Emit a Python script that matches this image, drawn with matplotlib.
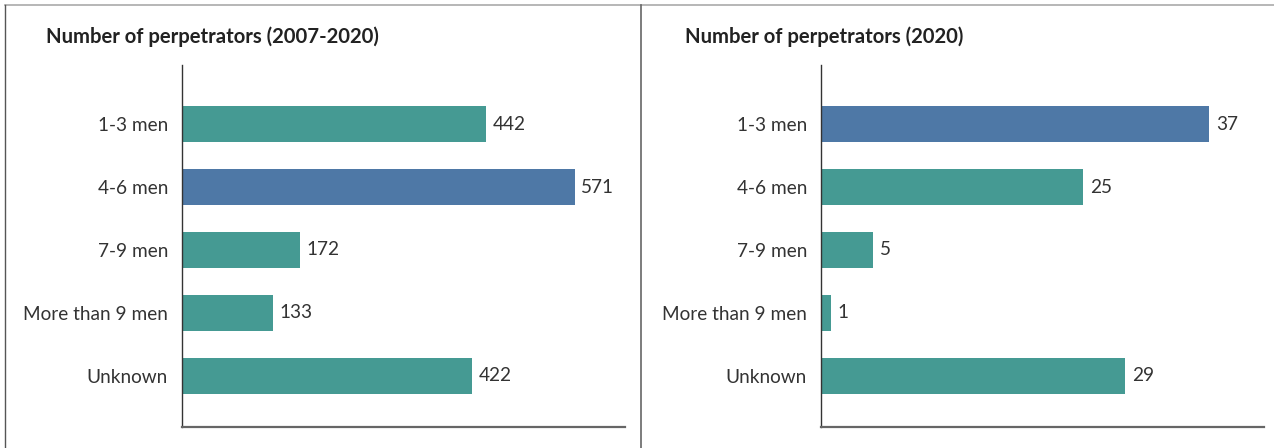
import numpy as np
import matplotlib
matplotlib.use("Agg")
import matplotlib.pyplot as plt
from matplotlib.lines import Line2D

categories = ["1-3 men", "4-6 men", "7-9 men", "More than 9 men", "Unknown"]
total_0720 = [442, 571, 172, 133, 422]
total_2020 = [37, 25, 5, 1, 29]

teal = "#459a93"
blue = "#4e78a6"
txt = "#333333"

plt.rcParams['font.family'] = ['Lato', 'DejaVu Sans']

W, H = 1274, 448
fig = plt.figure(figsize=(W / 100, H / 100), dpi=100)
fig.patch.set_facecolor("white")


def panel(x0, x1, vals, xmax, title, title_x):
    ax = fig.add_axes([x0 / W, 1 - 427 / H, (x1 - x0) / W, (427 - 65) / H])
    y = np.arange(len(categories))
    cols = [blue if v == max(vals) else teal for v in vals]
    ax.barh(y, vals, height=0.56, color=cols)
    for yi, v in zip(y, vals):
        ax.annotate(str(v), (v, yi), xytext=(4.5, 0), textcoords="offset points",
                    va="center", ha="left", fontsize=13.7, color=txt)
    ax.set_yticks(y)
    ax.set_yticklabels(categories, fontsize=13.7, color=txt)
    ax.tick_params(axis="y", length=0, pad=10)
    ax.set_xticks([])
    ax.set_xlim(0, xmax)
    ax.set_ylim(4.81, -0.937)
    ax.spines["top"].set_visible(False)
    ax.spines["right"].set_visible(False)
    ax.spines["left"].set_color("#333333")
    ax.spines["bottom"].set_color("#666666")
    ax.spines["left"].set_linewidth(1.0)
    ax.spines["bottom"].set_linewidth(1.6)
    fig.text(title_x / W, 1 - 37 / H, title, fontsize=14.6, fontweight="bold",
             color="#222222", va="center", ha="left")
    return ax


panel(182, 625, total_0720, 644, "Number of perpetrators (2007-2020)", 46)
panel(821, 1264, total_2020, 42.2, "Number of perpetrators (2020)", 685)

# panel frames
fig.add_artist(Line2D([5 / W, 1], [1 - 5 / H, 1 - 5 / H], color="#aaaaaa", lw=1.2))
fig.add_artist(Line2D([5 / W, 5 / W], [0, 1 - 5 / H], color="#555555", lw=1.0))
fig.add_artist(Line2D([641 / W, 641 / W], [0, 1 - 5 / H], color="#666666", lw=1.2))

fig.savefig("out.png", dpi=100)
